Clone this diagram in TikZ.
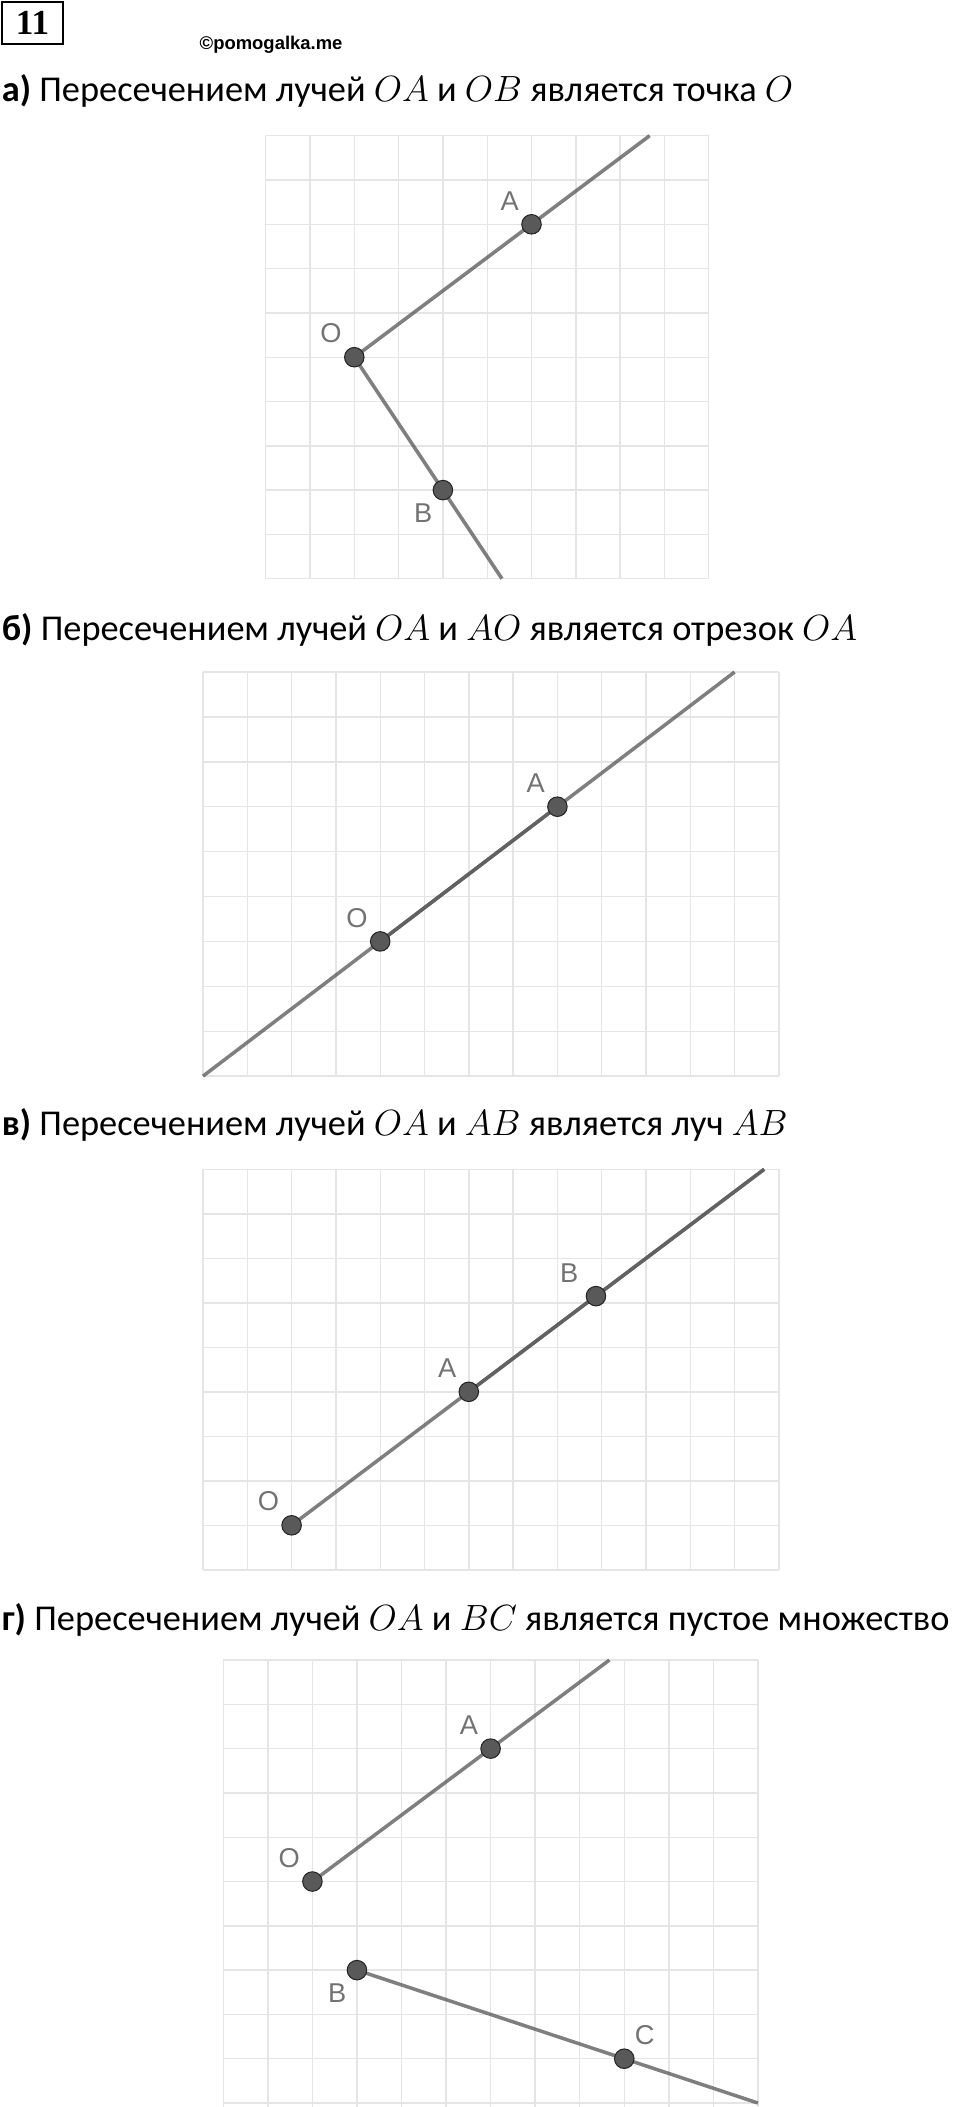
\documentclass[tikz,border=0pt]{standalone}
\usepackage{fontspec}
\setmainfont{Carlito}
\newfontfamily\labelfont{Liberation Sans}
\newfontfamily\markfont{Liberation Sans}
\newfontfamily\numfont{Liberation Serif}
\usetikzlibrary{positioning}

\begin{document}
\begin{tikzpicture}
    % Define styles
    \tikzstyle{gridline}=[draw=black!10, line width=0.8pt]
    \tikzstyle{ray}=[draw=black!66, opacity=0.76, line width=2pt]
    \tikzstyle{ptnode}=[draw=black!85, fill=black!65, circle, line width=0.6pt, minimum size=0.39cm, inner sep=0pt]
    \tikzstyle{ptlabel}=[font=\labelfont\fontsize{15.5}{16}\selectfont, text=black!55, inner sep=0pt]
    \tikzstyle{heading}=[anchor=base west, inner sep=0pt, font=\fontsize{20.7}{24}\selectfont]

    \useasboundingbox (0,0) rectangle (19.2,-42.14);

    % --- 0. Header ---
    \node[draw, line width=1.1pt, minimum width=1.232cm, minimum height=0.852cm, inner sep=0pt,
          font=\numfont\bfseries\fontsize{20}{20}\selectfont] (num) at (0.65,-0.46) {11};
    \node[anchor=base west, inner sep=0pt, font=\markfont\bfseries\fontsize{10.5}{12}\selectfont]
          (mark) at (3.986,-0.98) {©pomogalka.me};

    % --- 1. Part a: rays OA and OB ---
    \node[heading] (ta) at (0.03,-2.034) {\textbf{а)} Пересечением лучей $OA$ и $OB$ является точка $O$};
    \begin{scope}[shift={(5.314cm,-2.714cm)}, x=0.886cm, y=-0.886cm]
        \foreach \i in {0,...,10} \draw[gridline] (\i,0) -- (\i,10);
        \foreach \j in {0,...,10} \draw[gridline] (0,\j) -- (10,\j);
        \coordinate (paO) at (2,5);
        \coordinate (paA) at (6,2);
        \coordinate (paB) at (4,8);
        \coordinate (paEndA) at (8.667,0);
        \coordinate (paEndB) at (5.333,10);
        \draw[ray] (paO) -- (paEndA);
        \draw[ray] (paO) -- (paEndB);
        \node[ptnode] (paOdot) at (paO) {};
        \node[ptnode] (paAdot) at (paA) {};
        \node[ptnode] (paBdot) at (paB) {};
        \node[ptlabel, above left=0.13cm and 0.1cm of paOdot] (paOlab) {O};
        \node[ptlabel, above left=0.13cm and 0.1cm of paAdot] (paAlab) {A};
        \node[ptlabel, below left=0.13cm and 0.06cm of paBdot] (paBlab) {B};
    \end{scope}

    % --- 2. Part b: rays OA and AO ---
    \node[heading] (tb) at (0.03,-12.8) {\textbf{б)} Пересечением лучей $OA$ и $AO$ является отрезок $OA$};
    \begin{scope}[shift={(4.06cm,-13.44cm)}, x=0.886cm, y=-0.898cm]
        \foreach \i in {0,...,13} \draw[gridline] (\i,0) -- (\i,9);
        \foreach \j in {0,...,9} \draw[gridline] (0,\j) -- (13,\j);
        \coordinate (pbO) at (4,6);
        \coordinate (pbA) at (8,3);
        \coordinate (pbEndA) at (12,0);
        \coordinate (pbEndO) at (0,9);
        \draw[ray] (pbO) -- (pbEndA);
        \draw[ray] (pbA) -- (pbEndO);
        \node[ptnode] (pbOdot) at (pbO) {};
        \node[ptnode] (pbAdot) at (pbA) {};
        \node[ptlabel, above left=0.13cm and 0.1cm of pbOdot] (pbOlab) {O};
        \node[ptlabel, above left=0.13cm and 0.1cm of pbAdot] (pbAlab) {A};
    \end{scope}

    % --- 3. Part c: rays OA and AB ---
    \node[heading] (tc) at (0.03,-22.7) {\textbf{в)} Пересечением лучей $OA$ и $AB$ является луч $AB$};
    \begin{scope}[shift={(4.06cm,-23.386cm)}, x=0.886cm, y=-0.89cm]
        \foreach \i in {0,...,13} \draw[gridline] (\i,0) -- (\i,9);
        \foreach \j in {0,...,9} \draw[gridline] (0,\j) -- (13,\j);
        \coordinate (pcO) at (2,8);
        \coordinate (pcA) at (6,5);
        \coordinate (pcB) at (8.87,2.85);
        \coordinate (pcEnd) at (12.667,0);
        \draw[ray] (pcO) -- (pcEnd);
        \draw[ray] (pcA) -- (pcEnd);
        \node[ptnode] (pcOdot) at (pcO) {};
        \node[ptnode] (pcAdot) at (pcA) {};
        \node[ptnode] (pcBdot) at (pcB) {};
        \node[ptlabel, above left=0.13cm and 0.1cm of pcOdot] (pcOlab) {O};
        \node[ptlabel, above left=0.13cm and 0.1cm of pcAdot] (pcAlab) {A};
        \node[ptlabel, above left=0.12cm and 0.2cm of pcBdot] (pcBlab) {B};
    \end{scope}

    % --- 4. Part d: rays OA and BC ---
    \node[heading] (td) at (0.03,-32.6) {\textbf{г)} Пересечением лучей $OA$ и $BC$ является пустое множество};
    \begin{scope}[shift={(4.466cm,-33.2cm)}, x=0.891cm, y=-0.886cm]
        \foreach \i in {0,...,12} \draw[gridline] (\i,0) -- (\i,10.09);
        \foreach \j in {0,...,10} \draw[gridline] (0,\j) -- (12,\j);
        \coordinate (pdO) at (2,5);
        \coordinate (pdA) at (6,2);
        \coordinate (pdB) at (3,7);
        \coordinate (pdC) at (9,9);
        \coordinate (pdEndA) at (8.667,0);
        \coordinate (pdEndC) at (12,10);
        \draw[ray] (pdO) -- (pdEndA);
        \draw[ray] (pdB) -- (pdEndC);
        \node[ptnode] (pdOdot) at (pdO) {};
        \node[ptnode] (pdAdot) at (pdA) {};
        \node[ptnode] (pdBdot) at (pdB) {};
        \node[ptnode] (pdCdot) at (pdC) {};
        \node[ptlabel, above left=0.13cm and 0.1cm of pdOdot] (pdOlab) {O};
        \node[ptlabel, above left=0.13cm and 0.1cm of pdAdot] (pdAlab) {A};
        \node[ptlabel, below left=0.13cm and 0.06cm of pdBdot] (pdBlab) {B};
        \node[ptlabel, above right=0.13cm and 0.06cm of pdCdot] (pdClab) {C};
    \end{scope}

\end{tikzpicture}
\end{document}
